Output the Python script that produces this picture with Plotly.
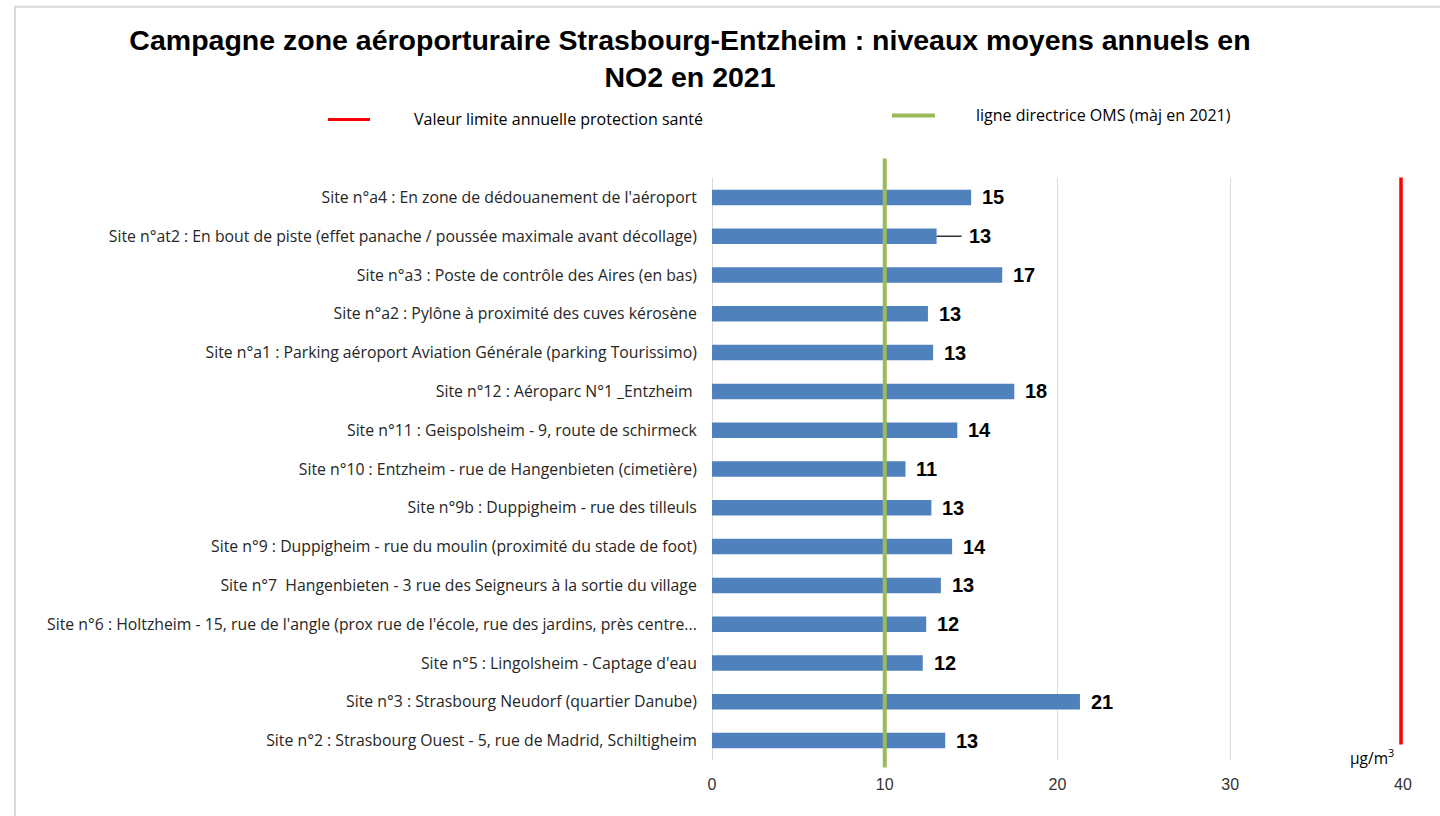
import plotly.graph_objects as go

# Data (bottom to top as plotted)
sites = [
    "Site n°2 : Strasbourg Ouest - 5, rue de Madrid, Schiltigheim",
    "Site n°3 : Strasbourg Neudorf (quartier Danube)",
    "Site n°5 : Lingolsheim - Captage d'eau",
    "Site n°6 : Holtzheim - 15, rue de l'angle (prox rue de l'école, rue des jardins, près centre...",
    "Site n°7  Hangenbieten - 3 rue des Seigneurs à la sortie du village",
    "Site n°9 : Duppigheim - rue du moulin (proximité du stade de foot)",
    "Site n°9b : Duppigheim - rue des tilleuls",
    "Site n°10 : Entzheim - rue de Hangenbieten (cimetière)",
    "Site n°11 : Geispolsheim - 9, route de schirmeck",
    "Site n°12 : Aéroparc N°1 _Entzheim ",
    "Site n°a1 : Parking aéroport Aviation Générale (parking Tourissimo)",
    "Site n°a2 : Pylône à proximité des cuves kérosène",
    "Site n°a3 : Poste de contrôle des Aires (en bas)",
    "Site n°at2 : En bout de piste (effet panache / poussée maximale avant décollage)",
    "Site n°a4 : En zone de dédouanement de l'aéroport",
]
values = [13.5, 21.3, 12.2, 12.4, 13.25, 13.9, 12.7, 11.2, 14.2, 17.5, 12.8, 12.5, 16.8, 13.0, 15.0]
errors_plus = [0, 0, 0, 0, 0, 0, 0, 0, 0, 0, 0, 0, 0, 1.45, 0]
labels = ["13", "21", "12", "12", "13", "14", "13", "11", "14", "18", "13", "13", "17", "13", "15"]
oms_guideline = 10
limit_value = 40
x_ticks = [0, 10, 20, 30, 40]

title = "Campagne zone aéroporturaire Strasbourg-Entzheim : niveaux moyens annuels en<br>NO2 en 2021"
legend_red = "Valeur limite annuelle protection santé"
legend_green = "ligne directrice OMS (màj en 2021)"

W, H = 1440, 816
L, R = 712, 1403
T, B = 177.6, 760.5

def px(x):
    return (x - L) / (R - L)

def py(y):
    return (B - y) / (B - T)

FONT = "Liberation Sans"
LABEL_FONT = "Open Sans"

fig = go.Figure()
fig.add_trace(go.Bar(
    y=sites, x=values, orientation="h",
    marker=dict(color="#4F81BD", line=dict(width=0)),
    error_x=dict(type="data", array=errors_plus, arrayminus=[0] * len(values),
                 symmetric=False, color="black", thickness=1.2, width=0,
                 visible=True),
    hoverinfo="x+y",
))

annotations = []
for s, v, e, lab in zip(sites, values, errors_plus, labels):
    annotations.append(dict(
        x=v + e, y=s, xref="x", yref="y", text=lab, showarrow=False,
        xanchor="left", xshift=9 if e == 0 else 5,
        font=dict(family=FONT, size=20, color="black", weight="bold"),
    ))

annotations.append(dict(
    x=px(1396), y=py(757), xref="paper", yref="paper", text="µg/m<sup>3</sup>",
    showarrow=False, xanchor="right", yanchor="middle",
    font=dict(family=LABEL_FONT, size=15.5, color="black"),
))
annotations.append(dict(
    x=px(412), y=py(119), xref="paper", yref="paper", text=legend_red,
    showarrow=False, xanchor="left", yanchor="middle",
    font=dict(family=LABEL_FONT, size=16, color="black"),
))
annotations.append(dict(
    x=px(974), y=py(115), xref="paper", yref="paper", text=legend_green,
    showarrow=False, xanchor="left", yanchor="middle",
    font=dict(family=LABEL_FONT, size=16, color="black"),
))

shapes = [
    # OMS guideline
    dict(type="line", xref="x", yref="paper", x0=oms_guideline, x1=oms_guideline,
         y0=py(158), y1=py(768), line=dict(color="#9BBB59", width=4)),
    # annual limit (paper ref so that it is not clipped at the axis edge)
    dict(type="line", xref="paper", yref="paper", x0=px(1401), x1=px(1401),
         y0=py(177), y1=py(745), line=dict(color="#FF0000", width=3.5)),
    # legend lines
    dict(type="line", xref="paper", yref="paper", x0=px(328), x1=px(370),
         y0=py(119), y1=py(119), line=dict(color="#FF0000", width=3)),
    dict(type="line", xref="paper", yref="paper", x0=px(892), x1=px(935),
         y0=py(115), y1=py(115), line=dict(color="#9BBB59", width=4)),
    # outer frame
    dict(type="rect", xref="paper", yref="paper", x0=px(15), x1=px(1450),
         y0=py(830), y1=py(6), line=dict(color="#D9D9D9", width=2), layer="below"),
]

fig.update_layout(
    width=W, height=H,
    margin=dict(l=L, r=W - R, t=T, b=H - B),
    paper_bgcolor="white", plot_bgcolor="white",
    showlegend=False,
    bargap=0.6,
    title=dict(text=title, x=690 / W, xanchor="center", y=1 - 50 / H, yanchor="middle",
               font=dict(family=FONT, size=28.5, color="black", weight="bold")),
    xaxis=dict(range=[0, 40], tickvals=x_ticks, showgrid=True, gridcolor="#D9D9D9",
               gridwidth=1, zeroline=True, zerolinecolor="#D9D9D9", zerolinewidth=1,
               showline=False, ticks="outside", ticklen=10, tickcolor="rgba(0,0,0,0)",
               tickfont=dict(family=FONT, size=16, color="#333333")),
    yaxis=dict(type="category", categoryorder="array", categoryarray=sites,
               range=[-0.5, len(sites) - 0.5], showgrid=False, showline=False,
               ticks="outside", ticklen=11, tickcolor="rgba(0,0,0,0)",
               tickfont=dict(family=LABEL_FONT, size=15.8, color="#262626")),
    annotations=annotations,
    shapes=shapes,
)

fig.write_html(
    "out.html",
    config={"displayModeBar": False},
    post_script="document.body.style.margin='0px';document.body.style.overflow='hidden';",
)
